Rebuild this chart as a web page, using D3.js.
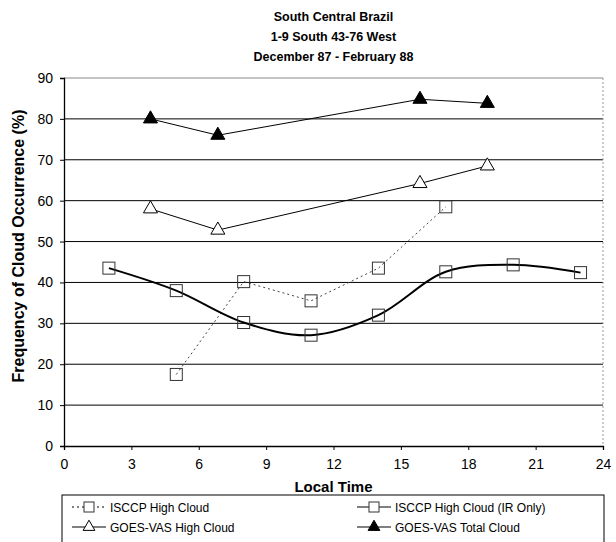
<!DOCTYPE html>
<html>
<head>
<meta charset="utf-8">
<script src="https://cdn.jsdelivr.net/npm/d3@7"></script>
<style>
  body { margin: 0; background: #fff; }
  text { font-family: "Liberation Sans", Arial, sans-serif; fill: #000; }
</style>
</head>
<body>
<svg id="chart" width="616" height="542"></svg>
<script>
// ---- data ----
const titleLines = ["South Central Brazil", "1-9 South  43-76 West", "December 87 - February 88"];
const xTicks = [0, 3, 6, 9, 12, 15, 18, 21, 24];
const yTicks = [0, 10, 20, 30, 40, 50, 60, 70, 80, 90];

const isccpHighHours = [5, 8, 11, 14, 17];
const isccpHighValues = [17.5, 40.2, 35.5, 43.5, 58.5];

const isccpIRHours = [2, 5, 8, 11, 14, 17, 20, 23];
const isccpIRValues = [43.5, 38.0, 30.2, 27.1, 32.0, 42.6, 44.3, 42.4];

const goesHighHours = [3.85, 6.85, 15.85, 18.85];
const goesHighValues = [58.0, 52.8, 64.2, 68.5];

const goesTotalHours = [3.85, 6.85, 15.85, 18.85];
const goesTotalValues = [80.0, 76.0, 84.8, 83.8];

const seriesNames = ["ISCCP High Cloud", "ISCCP High Cloud (IR Only)", "GOES-VAS High Cloud", "GOES-VAS Total Cloud"];

// ---- layout ----
const svg = d3.select("#chart");
const L = 64, R = 603, T = 78, B = 446;
const x = d3.scaleLinear().domain([0, 24]).range([L, R]);
const y = d3.scaleLinear().domain([0, 90]).range([B, T]);

// title
svg.append("g").selectAll("text").data(titleLines).join("text")
  .attr("x", (L + R) / 2).attr("y", (d, i) => 21 + i * 20)
  .attr("text-anchor", "middle").attr("font-size", 12.5).attr("font-weight", "bold")
  .text(d => d);

// gridlines
svg.append("g").selectAll("line").data(yTicks.filter(d => d > 0 && d < 90)).join("line")
  .attr("x1", L).attr("x2", R).attr("y1", d => y(d)).attr("y2", d => y(d))
  .attr("stroke", "#000").attr("stroke-width", 1);
// top border
svg.append("line").attr("x1", L).attr("x2", R).attr("y1", y(90)).attr("y2", y(90))
  .attr("stroke", "#888").attr("stroke-width", 1);
// right border dotted
svg.append("line").attr("x1", R).attr("x2", R).attr("y1", y(90)).attr("y2", y(0))
  .attr("stroke", "#999").attr("stroke-width", 1).attr("stroke-dasharray", "2,2");

// axes
const yAxis = svg.append("g").attr("transform", `translate(${L},0)`)
  .call(d3.axisLeft(y).tickValues(yTicks).tickSize(4).tickPadding(7));
const xAxis = svg.append("g").attr("transform", `translate(0,${B})`)
  .call(d3.axisBottom(x).tickValues(xTicks).tickSize(4).tickPadding(9));
[yAxis, xAxis].forEach(a => {
  a.select(".domain").attr("stroke", "#000").attr("stroke-width", 1.3);
  a.selectAll(".tick line").attr("stroke", "#000");
  a.selectAll("text").attr("font-size", 14).attr("font-family", "Liberation Sans, Arial, sans-serif").attr("fill", "#000");
});

// axis titles
svg.append("text").attr("x", (L + R) / 2).attr("y", 492)
  .attr("text-anchor", "middle").attr("font-size", 15).attr("font-weight", "bold").text("Local Time");
svg.append("text").attr("transform", "translate(24,246) rotate(-90)")
  .attr("text-anchor", "middle").attr("font-size", 16).attr("font-weight", "bold")
  .text("Frequency of Cloud Occurrence (%)");

// lines
function pts(h, v) { return h.map((d, i) => [d, v[i]]); }
const lineLin = d3.line().x(d => x(d[0])).y(d => y(d[1]));
const lineSmooth = d3.line().x(d => x(d[0])).y(d => y(d[1])).curve(d3.curveCatmullRom.alpha(0.5));

svg.append("path").attr("d", lineLin(pts(isccpHighHours, isccpHighValues)))
  .attr("fill", "none").attr("stroke", "#444").attr("stroke-width", 1).attr("stroke-dasharray", "2,3");
svg.append("path").attr("d", lineSmooth(pts(isccpIRHours, isccpIRValues)))
  .attr("fill", "none").attr("stroke", "#000").attr("stroke-width", 2);
svg.append("path").attr("d", lineLin(pts(goesHighHours, goesHighValues)))
  .attr("fill", "none").attr("stroke", "#000").attr("stroke-width", 1);
svg.append("path").attr("d", lineLin(pts(goesTotalHours, goesTotalValues)))
  .attr("fill", "none").attr("stroke", "#000").attr("stroke-width", 1);

// markers
const sq = 12;
function squares(data) {
  svg.append("g").selectAll("rect").data(data).join("rect")
    .attr("x", d => x(d[0]) - sq / 2).attr("y", d => y(d[1]) - sq / 2)
    .attr("width", sq).attr("height", sq)
    .attr("fill", "none").attr("stroke", "#333").attr("stroke-width", 1);
}
squares(pts(isccpHighHours, isccpHighValues));
squares(pts(isccpIRHours, isccpIRValues));
const tri = d3.symbol().type(d3.symbolTriangle).size(85);
function triangles(data, fill) {
  svg.append("g").selectAll("path").data(data).join("path")
    .attr("transform", d => `translate(${x(d[0])},${y(d[1])})`)
    .attr("d", tri).attr("fill", fill).attr("stroke", "#000").attr("stroke-width", 1);
}
triangles(pts(goesHighHours, goesHighValues), "#fff");
triangles(pts(goesTotalHours, goesTotalValues), "#000");

// legend
const lg = svg.append("g");
lg.append("rect").attr("x", 62).attr("y", 495).attr("width", 542).attr("height", 52)
  .attr("fill", "none").attr("stroke", "#000").attr("stroke-width", 1);
const legendItems = [
  { name: seriesNames[0], x: 72, y: 507, dash: "2,3", w: 1, mark: "sq" },
  { name: seriesNames[1], x: 357, y: 507, dash: null, w: 1, mark: "sq" },
  { name: seriesNames[2], x: 72, y: 527, dash: null, w: 1, mark: "tri" },
  { name: seriesNames[3], x: 357, y: 527, dash: null, w: 1, mark: "trif" }
];
legendItems.forEach(it => {
  lg.append("line").attr("x1", it.x).attr("x2", it.x + 34).attr("y1", it.y).attr("y2", it.y)
    .attr("stroke", "#000").attr("stroke-width", it.w).attr("stroke-dasharray", it.dash);
  const cx = it.x + 17;
  if (it.mark === "sq") {
    lg.append("rect").attr("x", cx - 5).attr("y", it.y - 5).attr("width", 10).attr("height", 10)
      .attr("fill", "#fff").attr("stroke", "#333");
  } else {
    lg.append("path").attr("transform", `translate(${cx},${it.y})`)
      .attr("d", d3.symbol().type(d3.symbolTriangle).size(60))
      .attr("fill", it.mark === "trif" ? "#000" : "#fff").attr("stroke", "#000");
  }
  lg.append("text").attr("x", it.x + 38).attr("y", it.y + 4.5).attr("font-size", 12).text(it.name);
});
</script>
</body>
</html>
